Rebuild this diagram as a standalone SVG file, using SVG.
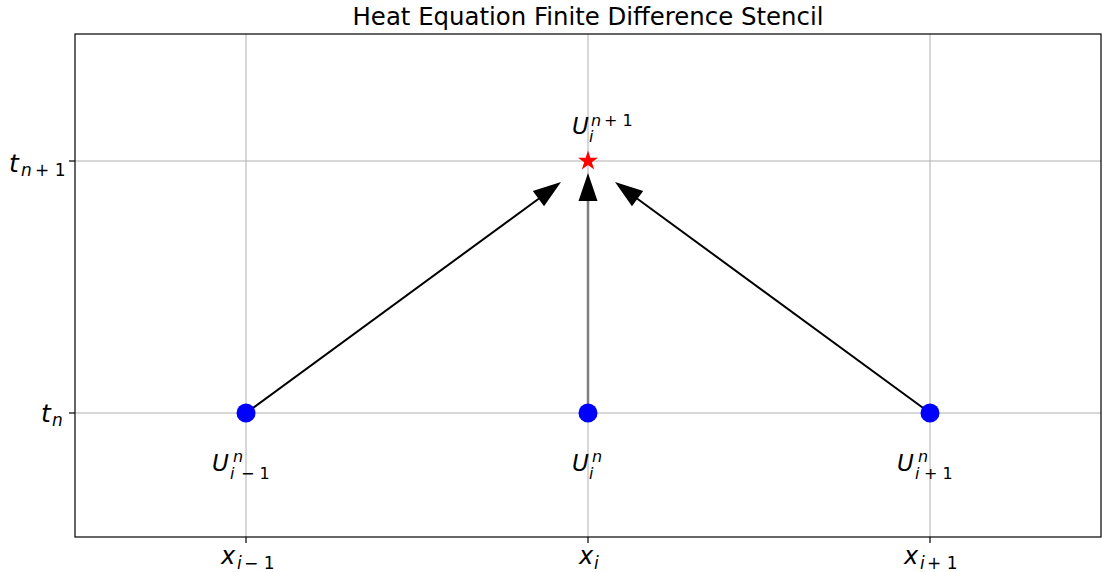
<svg xmlns="http://www.w3.org/2000/svg" width="1103" height="572" viewBox="0 0 1103 572">
<style>
.grid{stroke:#b0b0b0;stroke-width:1;fill:none}
.spine{stroke:#000;stroke-width:1.2;fill:none}
.tick{stroke:#000;stroke-width:1.2}
.m{font-family:"DejaVu Sans",sans-serif;font-style:italic;fill:#000}
.title{font-family:"DejaVu Sans",sans-serif;font-size:24.4px;fill:#000}
.pt{fill:#0000ff}
</style>
<rect width="1103" height="572" fill="#fff"/>
<text class="title" x="588" y="25" text-anchor="middle">Heat Equation Finite Difference Stencil</text>
<g id="axes">
<line class="grid" x1="246" y1="34" x2="246" y2="537"/>
<line class="grid" x1="588" y1="34" x2="588" y2="537"/>
<line class="grid" x1="930" y1="34" x2="930" y2="537"/>
<line class="grid" x1="75" y1="161" x2="1101" y2="161"/>
<line class="grid" x1="75" y1="413" x2="1101" y2="413"/>
<rect class="spine" x="75" y="34" width="1026" height="503"/>
<line class="tick" x1="246" y1="537" x2="246" y2="543"/>
<line class="tick" x1="588" y1="537" x2="588" y2="543"/>
<line class="tick" x1="930" y1="537" x2="930" y2="543"/>
<line class="tick" x1="69" y1="161" x2="75" y2="161"/>
<line class="tick" x1="69" y1="413" x2="75" y2="413"/>
</g>
<g id="ticklabels">
<text class="m" font-size="24"><tspan x="221" y="564">x</tspan><tspan x="237" y="569" font-size="17">i</tspan><tspan x="244" y="569" font-size="17" font-style="normal">− 1</tspan></text>
<text class="m" font-size="24"><tspan x="579" y="564">x</tspan><tspan x="594" y="569" font-size="17">i</tspan></text>
<text class="m" font-size="24"><tspan x="904" y="564">x</tspan><tspan x="920" y="569" font-size="17">i</tspan><tspan x="927" y="569" font-size="17" font-style="normal">+ 1</tspan></text>
<text class="m" font-size="25"><tspan x="9" y="172">t</tspan><tspan x="21" y="176" font-size="17">n</tspan><tspan x="35" y="176" font-size="17" font-style="normal">+ 1</tspan></text>
<text class="m" font-size="25"><tspan x="41" y="422">t</tspan><tspan x="52" y="426" font-size="17">n</tspan></text>
</g>
<g id="connectors">
<line x1="246" y1="413" x2="539" y2="198.5" stroke="#000" stroke-width="2"/>
<polygon points="561,182 544.04,206.22 532.8,190.9" fill="#000"/>
<line x1="588" y1="413" x2="588" y2="200" stroke="#7f7f7f" stroke-width="2.5"/>
<polygon points="588,173 597.5,201 578.5,201" fill="#000"/>
<line x1="930" y1="413" x2="637" y2="198.5" stroke="#000" stroke-width="2"/>
<polygon points="615,182 643.2,190.9 631.96,206.2" fill="#000"/>
</g>
<g id="node-im1"><circle class="pt" cx="246" cy="413" r="9.5"/>
<text class="m" font-size="23"><tspan x="212" y="471">U</tspan><tspan x="230" y="479" font-size="16">i</tspan><tspan x="233" y="462" font-size="16">n</tspan><tspan x="241" y="479" font-size="16" font-style="normal">− 1</tspan></text></g>
<g id="node-i"><circle class="pt" cx="588" cy="413" r="9.5"/>
<text class="m" font-size="23"><tspan x="572" y="471">U</tspan><tspan x="589" y="479" font-size="16">i</tspan><tspan x="592" y="462" font-size="16">n</tspan></text></g>
<g id="node-ip1"><circle class="pt" cx="930" cy="413" r="9.5"/>
<text class="m" font-size="23"><tspan x="897" y="471">U</tspan><tspan x="915" y="479" font-size="16">i</tspan><tspan x="918" y="462" font-size="16">n</tspan><tspan x="924" y="479" font-size="16" font-style="normal">+ 1</tspan></text></g>
<g id="node-target"><polygon fill="#ff0000" points="588,150.5 590.35,157.76 597.99,157.76 591.8,162.24 594.17,169.49 588,165 581.83,169.49 584.2,162.24 578.01,157.76 585.65,157.76"/>
<text class="m" font-size="23"><tspan x="572" y="134">U</tspan><tspan x="589" y="142" font-size="16">i</tspan><tspan x="591" y="126" font-size="16">n</tspan><tspan x="604" y="126" font-size="16" font-style="normal">+ 1</tspan></text></g>
</svg>
